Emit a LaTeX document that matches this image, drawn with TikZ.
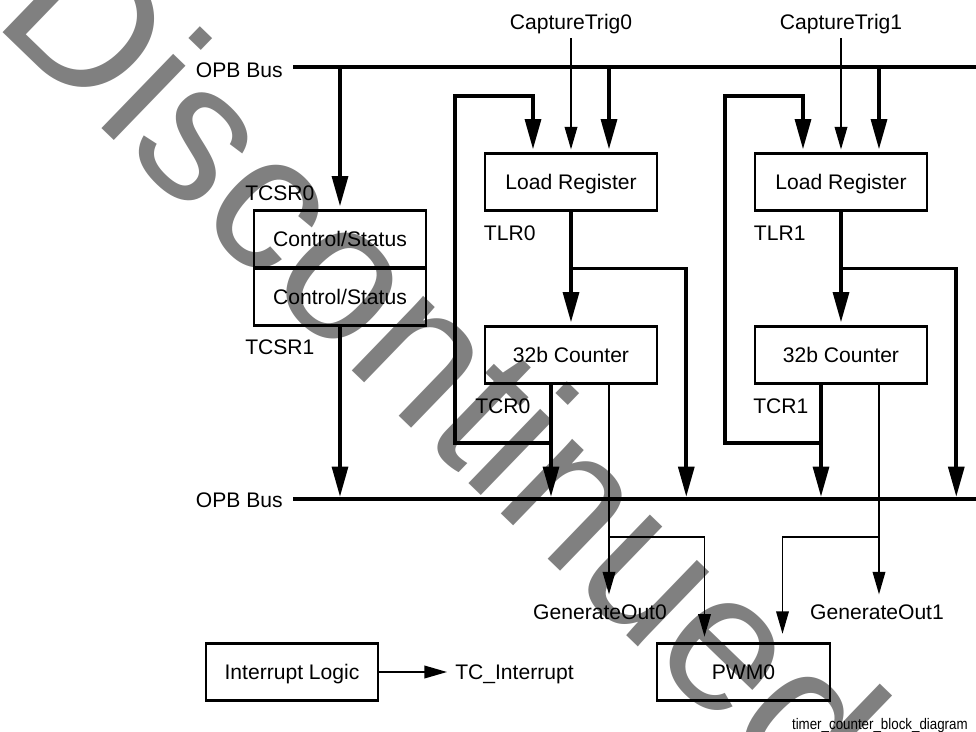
\documentclass[tikz,border=0pt]{standalone}
\usepackage{fontspec}
\setmainfont{Liberation Sans}
\newfontfamily\narrowfont[FakeStretch=0.87]{Liberation Sans}
\usetikzlibrary{arrows.meta,calc}
\tikzset{
  regbox/.style={draw,line width=1.8pt,minimum width=4.3cm,minimum height=1.425cm,
    inner sep=0pt,text height=10.7pt,text depth=0pt},
  lbl/.style={inner sep=0pt,text height=10.7pt,text depth=0pt},
  bus/.style={line width=2.7pt},
  thickarr/.style={line width=2.7pt,-{Triangle[length=21.5pt,width=11.2pt]},shorten >=2pt},
  thinarr/.style={line width=1pt,-{Triangle[length=16pt,width=9pt]},shorten >=2pt},
}

\begin{document}
\begin{tikzpicture}[x=0.025cm,y=-0.025cm,font=\fontsize{15}{18}\selectfont]
  \useasboundingbox (0,0) rectangle (976,732);

  %watermark, behind everything
  \begin{scope}
    \clip (0,0) rectangle (976,732);
    \node[text=black!50,rotate=-44,inner sep=0pt,font=\fontsize{139}{139}\selectfont]
        (wmark) at (446,364) {Discontinued};
  \end{scope}

  %the two buses
  \coordinate (busT) at (293,67);
  \coordinate (busTend) at (976,67);
  \coordinate (busB) at (293,499);
  \coordinate (busBend) at (976,499);
  \draw[bus] (busT) -- (busTend);
  \draw[bus] (busB) -- (busBend);
  \node[lbl,anchor=east] (opbT) at (283,69.5) {OPB Bus};
  \node[lbl,anchor=east] (opbB) at (283,500) {OPB Bus};

  %control/status registers
  \node[regbox] (tcsr0) at (340,239) {Control/Status};
  \node[regbox] (tcsr1) at (340,297) {Control/Status};
  \node[lbl,anchor=west] (ltcsr0) at (245,193) {TCSR0};
  \node[lbl,anchor=west] (ltcsr1) at (245,347) {TCSR1};
  \draw[thickarr] (busT -| tcsr0.north) -- (tcsr0.north);
  \draw[thickarr,shorten >=1.5pt] (tcsr1.south) -- (busB -| tcsr1.south);

  %timer/counter channels
  \foreach \i/\xc/\tx/\gx in {0/571/475/600,1/841/753/877} {
    \node[regbox] (lr\i) at (\xc,182) {Load Register};
    \node[regbox] (cnt\i) at (\xc,355) {32b Counter};
    \node[lbl,anchor=west] (tlr\i) at ($(lr\i.south west)+(0,21)$) {TLR\i};
    \node[lbl,anchor=west] (tcr\i) at (\tx,406) {TCR\i};
    \node[lbl] (ct\i) at (\xc,22) {CaptureTrig\i};
    \node[lbl] (gen\i) at (\gx,612) {GenerateOut\i};
    %inputs of the load register
    \draw[thinarr,shorten <=6pt] (ct\i.south) -- (ct\i.south |- lr\i.north);
    \coordinate (b\i) at ($(lr\i.north)+(38,0)$);
    \draw[thickarr] (busT -| b\i) -- (b\i);
    %load register to counter and bus
    \draw[thickarr] (lr\i) -- (cnt\i);
    \coordinate (m\i) at ($(lr\i.south)!0.5!(cnt\i.north)$);
    \coordinate (r\i) at ($(lr\i.east)+(28,0)$);
    \draw[thickarr,shorten >=1.5pt] (m\i) -| (r\i |- busB);
    %counter to bus, and back to the load register
    \coordinate (q\i) at ($(cnt\i.south)+(-20,0)$);
    \draw[thickarr,shorten >=1.5pt] (q\i) -- (q\i |- busB);
    \draw[thickarr] ($(q\i)+(0,58)$) -| ($(lr\i.north west)+(-29,-56)$)
        -| ($(lr\i.north)+(-38,0)$);
    %generate output
    \coordinate (o\i) at ($(cnt\i.south)+(38,0)$);
    \draw[thinarr,shorten >=7pt] (o\i) -- (o\i |- gen\i.north);
  }

  %interrupt logic and pwm
  \node[regbox] (intr) at (292,672) {Interrupt Logic};
  \node[lbl,anchor=west] (tcint) at (455,672) {TC\_Interrupt};
  \draw[thinarr,shorten >=5.7pt] (intr) -- (tcint);
  \node[regbox,minimum width=4.33cm] (pwm) at (743.5,672) {PWM0};
  \coordinate (gy) at (0,537);
  \draw[thinarr,shorten >=4pt] (o0 |- gy) -| ($(pwm.north)+(-39,0)$);
  \draw[thinarr,shorten >=6pt] (o1 |- gy) -| ($(pwm.north)+(39,0)$);

  \node[anchor=base east,inner sep=0pt,font=\narrowfont\fontsize{10.9}{12}\selectfont]
      (fname) at (968,729) {timer\_counter\_block\_diagram};
\end{tikzpicture}
\end{document}
